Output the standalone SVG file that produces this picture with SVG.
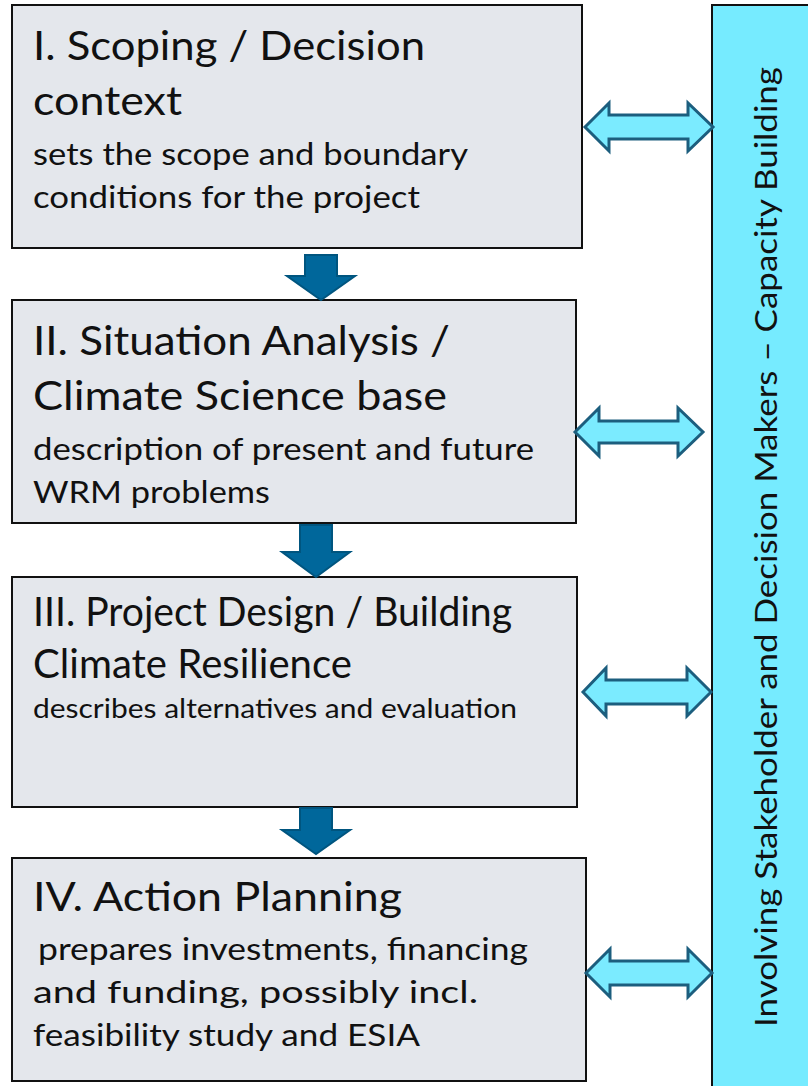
<svg xmlns="http://www.w3.org/2000/svg" width="808" height="1086" viewBox="0 0 808 1086">
<style>
.box{fill:#E4E7EC;stroke:#111;stroke-width:2}
.side{fill:#76EBFF;stroke:#111;stroke-width:2}
.t{font-family:Lato,"Liberation Sans",sans-serif;fill:#111;font-size:40px}
.s{font-family:Lato,"Liberation Sans",sans-serif;fill:#111;font-size:30px}
.s2{font-family:Lato,"Liberation Sans",sans-serif;fill:#111;font-size:26px}
.dbl{fill:#7BEBFF;stroke:#1C5E7E;stroke-width:3;stroke-linejoin:miter}
.down{fill:#00679B;stroke:#00557F;stroke-width:2}
</style>
<rect width="808" height="1086" fill="#fff"/>
<g id="sidebar">
<rect class="side" x="712" y="5" width="100" height="1090"/>
<text class="s" font-size="34" transform="translate(777,1027) rotate(-90)" textLength="960" lengthAdjust="spacingAndGlyphs">Involving Stakeholder and Decision Makers – Capacity Building</text>
</g>
<g id="node1">
<rect class="box" x="12" y="5" width="570" height="243"/>
<text class="t" x="33" y="60" textLength="392" lengthAdjust="spacingAndGlyphs">I. Scoping / Decision</text>
<text class="t" x="33" y="115" textLength="149" lengthAdjust="spacingAndGlyphs">context</text>
<text class="s" x="33" y="165" textLength="435" lengthAdjust="spacingAndGlyphs">sets the scope and boundary</text>
<text class="s" x="33" y="208" textLength="387" lengthAdjust="spacingAndGlyphs">conditions for the project</text>
</g>
<g id="node2">
<rect class="box" x="12" y="300" width="564" height="223"/>
<text class="t" x="33" y="355" textLength="417" lengthAdjust="spacingAndGlyphs">II. Situation Analysis /</text>
<text class="t" x="33" y="410" textLength="414" lengthAdjust="spacingAndGlyphs">Climate Science base</text>
<text class="s" x="33" y="460" textLength="501" lengthAdjust="spacingAndGlyphs">description of present and future</text>
<text class="s" x="33" y="503" textLength="237" lengthAdjust="spacingAndGlyphs">WRM problems</text>
</g>
<g id="node3">
<rect class="box" x="12" y="577" width="565" height="230"/>
<text class="t" x="33" y="626" textLength="479" lengthAdjust="spacingAndGlyphs">III. Project Design / Building</text>
<text class="t" x="33" y="678" textLength="319" lengthAdjust="spacingAndGlyphs">Climate Resilience</text>
<text class="s2" x="33" y="718" textLength="484" lengthAdjust="spacingAndGlyphs">describes alternatives and evaluation</text>
</g>
<g id="node4">
<rect class="box" x="12" y="858" width="574" height="223"/>
<text class="t" x="33" y="911" textLength="369" lengthAdjust="spacingAndGlyphs">IV. Action Planning</text>
<text class="s" x="38" y="960" textLength="490" lengthAdjust="spacingAndGlyphs">prepares investments, financing</text>
<text class="s" x="33" y="1003" textLength="445" lengthAdjust="spacingAndGlyphs">and funding, possibly incl.</text>
<text class="s" x="33" y="1046" textLength="387" lengthAdjust="spacingAndGlyphs">feasibility study and ESIA</text>
</g>
<g id="connectors">
<polygon class="down" points="305,255 337,255 337,276 355,276 321,300 287,276 305,276"/>
<polygon class="down" points="300,525 332,525 332,552 350,552 316,577 282,552 300,552"/>
<polygon class="down" points="300,808 332,808 332,830 350,830 316,854 282,830 300,830"/>
<polygon class="dbl" points="585,127 609,103 609,115 688,115 688,103 713,127 688,151 688,139 609,139 609,151"/>
<polygon class="dbl" points="575,432 599,408 599,421 678,421 678,408 703,432 678,456 678,443 599,443 599,456"/>
<polygon class="dbl" points="583,692 606,668 606,680 687,680 687,668 711,692 687,716 687,704 606,704 606,716"/>
<polygon class="dbl" points="586,973 610,949 610,961 688,961 688,949 712,973 688,997 688,985 610,985 610,997"/>
</g>
</svg>
